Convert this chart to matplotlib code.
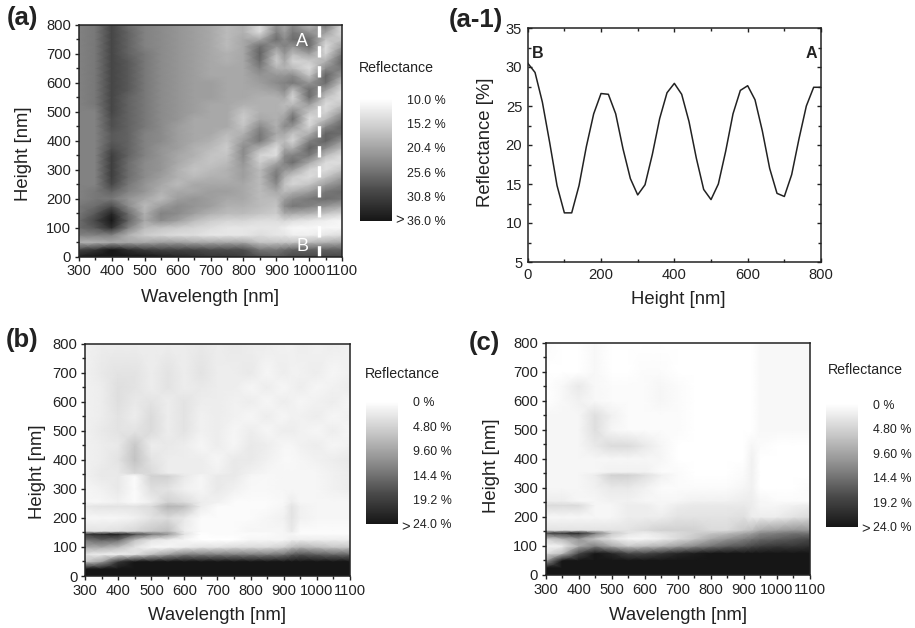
import numpy as np
import matplotlib
matplotlib.use('Agg')
import matplotlib.pyplot as plt
from matplotlib.colors import LinearSegmentedColormap, Normalize
from matplotlib.cm import ScalarMappable

plt.rcParams['font.family'] = ['Liberation Sans', 'DejaVu Sans']

W, H = 915, 628

wavelength = [300, 350, 400, 450, 500, 550, 600, 650, 700, 750, 800, 850, 900, 925, 950, 1000, 1050, 1100]

height_a = [0, 25, 50, 75, 100, 125, 150, 175, 200, 225, 250, 275, 300, 325, 350, 375, 400, 425, 450, 475, 500,
            525, 550, 575, 600, 625, 650, 675, 700, 725, 750, 775, 800]
refl_a = [
    [35, 36, 36, 36, 36, 35, 34, 33, 32, 32, 31, 29, 28, 29, 30, 30, 30, 30],
    [30, 32, 36, 33, 31, 30, 30, 30, 29, 29, 29, 25, 25, 26, 27, 27, 27, 27],
    [19, 19, 20, 20, 20, 21, 21, 20, 20, 20, 20, 17, 17, 17, 17, 18, 19, 20],
    [24, 24, 24, 19, 16, 15, 14, 14, 13, 13, 13, 14, 13, 13, 12, 12, 13, 14],
    [26, 28, 33, 24, 18, 17, 16, 15, 14, 13, 13, 13, 13, 12, 11, 11, 11, 11],
    [26, 30, 36, 27, 20, 23, 21, 18, 16, 15, 15, 14, 14, 15, 14, 13, 12, 11],
    [25, 28, 34, 26, 19, 24, 23, 21, 19, 18, 18, 17, 16, 20, 20, 19, 17, 15],
    [25, 26, 29, 23, 18, 21, 23, 22, 21, 19, 19, 18, 17, 23, 25, 24, 22, 20],
    [24, 25, 25, 22, 20, 18, 21, 22, 21, 20, 20, 18, 18, 21, 23, 25, 26, 25],
    [24, 25, 27, 24, 22, 19, 20, 20, 21, 21, 20, 18, 20, 18, 19, 21, 25, 26],
    [24, 24, 30, 25, 22, 20, 18, 20, 20, 20, 20, 18, 23, 17, 15, 17, 21, 24],
    [24, 24, 31, 26, 23, 21, 19, 18, 19, 19, 21, 18, 25, 19, 16, 14, 17, 21],
    [24, 24, 31, 26, 23, 22, 19, 17, 18, 19, 21, 18, 24, 22, 21, 15, 14, 17],
    [24, 24, 31, 26, 23, 22, 20, 18, 17, 18, 22, 16, 20, 24, 26, 20, 14, 14],
    [24, 24, 31, 27, 24, 22, 20, 19, 17, 17, 23, 15, 14, 23, 24, 25, 18, 14],
    [24, 24, 29, 27, 24, 22, 21, 19, 18, 16, 23, 19, 14, 20, 19, 27, 23, 18],
    [24, 24, 28, 27, 24, 23, 21, 20, 19, 17, 21, 25, 18, 18, 15, 24, 27, 22],
    [24, 24, 28, 27, 24, 23, 21, 20, 20, 18, 19, 25, 20, 20, 17, 19, 27, 26],
    [24, 24, 29, 27, 25, 23, 21, 20, 20, 20, 17, 23, 19, 23, 22, 15, 23, 27],
    [24, 24, 29, 27, 25, 23, 22, 20, 20, 20, 16, 20, 19, 21, 26, 14, 18, 25],
    [24, 24, 30, 27, 25, 23, 22, 21, 20, 20, 17, 19, 19, 19, 23, 17, 15, 21],
    [24, 25, 30, 27, 25, 23, 22, 21, 20, 20, 19, 19, 19, 18, 18, 21, 14, 17],
    [24, 25, 30, 27, 25, 23, 22, 21, 21, 20, 20, 19, 19, 20, 15, 26, 17, 14],
    [24, 25, 30, 28, 25, 23, 22, 21, 21, 20, 20, 20, 21, 23, 18, 26, 21, 14],
    [24, 25, 30, 28, 25, 23, 22, 21, 21, 20, 20, 21, 23, 24, 25, 22, 26, 17],
    [24, 25, 30, 28, 25, 23, 22, 21, 20, 20, 20, 22, 22, 22, 23, 17, 27, 21],
    [24, 25, 30, 28, 25, 23, 22, 21, 20, 20, 20, 24, 19, 19, 18, 14, 23, 25],
    [24, 25, 30, 28, 25, 23, 22, 21, 20, 19, 20, 26, 16, 20, 15, 16, 19, 27],
    [24, 25, 30, 27, 25, 23, 22, 21, 20, 19, 20, 27, 18, 22, 18, 21, 15, 25],
    [24, 25, 30, 27, 24, 23, 22, 21, 20, 18, 20, 26, 22, 24, 22, 26, 14, 21],
    [24, 25, 30, 27, 24, 23, 22, 21, 20, 18, 20, 20, 26, 23, 26, 26, 17, 17],
    [24, 25, 30, 27, 24, 23, 22, 21, 20, 18, 19, 14, 24, 21, 25, 22, 21, 14],
    [24, 25, 30, 26, 24, 23, 22, 21, 20, 18, 19, 14, 22, 20, 23, 18, 25, 14],
]

height_b = [0, 25, 50, 75, 100, 125, 145, 155, 200, 240, 255, 300, 345, 355, 400, 450, 500, 550, 600, 650, 700, 800]
refl_b = [
    [26, 26, 26, 26, 26, 26, 26, 26, 26, 26, 26, 26, 26, 26, 26, 26, 26, 26],
    [26, 26, 26, 26, 26, 26, 26, 26, 26, 26, 26, 26, 26, 26, 26, 26, 26, 26],
    [6, 10, 20, 24, 24, 24, 24, 24, 24, 24, 24, 24, 24, 25, 25, 25, 25, 25],
    [3, 2, 2, 3, 7, 10, 13, 13, 13, 13, 13, 13, 14, 16, 17, 16, 15, 15],
    [9, 9, 7, 3, 1, 1, 2, 3, 3, 4, 4, 4, 5, 7, 8, 7, 6, 6],
    [14, 16, 15, 7, 3, 2, 1, 0, 0, 0, 1, 1, 1, 2, 2, 2, 2, 2],
    [20, 22, 23, 18, 14, 11, 3, 0, 0.5, 0.5, 0.5, 0.5, 1, 1, 0.5, 0.5, 0.5, 0.5],
    [3, 3, 3.5, 4.5, 6, 7, 2, 0.5, 0.5, 0.5, 1, 1, 1, 2.5, 0.5, 0.5, 0.5, 0.5],
    [1, 1, 1, 1.5, 3, 4, 2.5, 0.5, 0.5, 0.5, 0.5, 1, 1.5, 3, 1.5, 1, 1, 1],
    [2.5, 3, 3, 3, 4, 8, 7, 2, 0.5, 0.5, 0.5, 0.5, 1, 3, 1.5, 1, 1, 1],
    [1, 1, 1.5, 0.5, 2, 5, 4, 2, 1.5, 0.5, 0.5, 0.5, 0.8, 2, 1, 1, 1, 1],
    [1, 1.5, 2.5, 0.5, 3.5, 3, 1.5, 1, 2.5, 1.5, 0.8, 0.8, 1, 1, 1, 1, 1.5, 2],
    [1.5, 2.5, 2.5, 0.5, 5, 5, 2.5, 1, 2.5, 2.5, 1, 0.8, 1, 1, 1, 1, 1.5, 2],
    [1.5, 2.5, 2.5, 4.5, 4, 2, 2, 2, 1.5, 2.5, 1.5, 1, 1, 1, 1, 1, 1.5, 2],
    [1.5, 2, 3, 6.5, 3, 2, 2, 2, 1, 2.5, 2.5, 1.5, 0.8, 0.8, 1, 1.5, 2, 2.5],
    [1.5, 2, 2.5, 6, 2, 2.5, 2, 1, 2, 1, 2.5, 2, 1, 1, 1.5, 2, 1, 1.5],
    [1.5, 2.5, 3, 3, 4, 2, 3, 1.5, 2, 1, 2, 1, 2, 2, 1.5, 1, 2, 1],
    [1.5, 2, 3, 2, 4, 2, 3, 1.5, 2, 1.5, 1, 2, 1, 1.5, 1.5, 2, 1, 1.5],
    [1.5, 2, 3.5, 2.5, 3, 2, 3, 2, 2, 1.5, 2, 1, 2, 1.5, 1, 1.5, 2, 1],
    [1.5, 2, 3.5, 3, 2, 3, 2, 2.5, 2, 2, 1, 2, 1, 1.5, 2, 1, 1.5, 2],
    [1.5, 2.5, 3, 3, 2, 3, 2, 3, 2, 2, 2.5, 1, 2, 1.5, 1.5, 2, 1, 1.5],
    [1.5, 2, 2, 2, 2, 2, 2, 2.5, 2, 2.5, 2, 2, 1.5, 1.5, 2, 1.5, 2, 1.5],
]

height_c = [0, 25, 50, 75, 100, 125, 145, 155, 200, 240, 255, 300, 345, 355, 400, 445, 500, 550, 600, 650, 700, 800]
refl_c = [
    [26, 26, 26, 26, 26, 26, 26, 26, 26, 26, 26, 26, 26, 26, 26, 26, 26, 26],
    [26, 26, 26, 26, 26, 26, 26, 26, 26, 26, 26, 26, 26, 26, 26, 26, 26, 26],
    [10, 24, 26, 26, 26, 25, 25, 25, 25, 25, 25, 26, 26, 26, 26, 26, 26, 26],
    [3, 7, 18, 24, 22, 18, 18, 20, 22, 23, 24, 25, 25, 25, 26, 26, 26, 26],
    [1, 2, 9, 13, 9, 6, 7, 8, 10, 12, 14, 16, 17, 18, 19, 20, 20, 21],
    [5, 8, 11, 6, 3, 1, 1, 2, 4, 6, 9, 11, 13, 14, 15, 16, 17, 18],
    [18, 20, 22, 14, 6, 3, 2, 3, 4, 5, 6, 7, 9, 10, 12, 13, 14, 14],
    [3, 3, 3, 3, 3, 3, 4, 5, 5, 5, 4, 4, 6, 7, 9, 10, 11, 11],
    [1, 1, 1, 1, 1, 2, 2, 2, 3, 3, 3, 3, 3.5, 2, 2, 2, 3, 4],
    [4, 4, 4, 1, 1, 2, 2, 1, 2, 2.5, 2.5, 2.5, 2.5, 2, 1, 1, 1.5, 2],
    [2, 2, 1, 1, 1.5, 1.5, 1, 1, 1, 1.5, 1.5, 1.5, 2, 2, 1, 0.5, 0.5, 0.5],
    [1, 1, 1, 1.5, 2.5, 2.5, 1.5, 0.5, 0.5, 0.5, 0.5, 0.5, 1, 1.5, 0, 0, 0, 0.5],
    [1, 1, 1, 2, 5, 5, 3.5, 1.5, 0.5, 0, 0, 0, 0.5, 1.5, 0, 0, 0, 0],
    [1, 1, 1, 1, 1.5, 1.5, 1.5, 0.5, 0.5, 0, 0, 0, 0.5, 1.5, 0, 0, 0, 0],
    [1, 1, 1, 1, 1, 1, 1, 1, 0, 0, 0, 0, 0, 1.5, 0, 0, 0, 0],
    [1, 1, 1, 2.5, 4, 4, 2.5, 1, 0, 0, 0, 0, 0, 1, 0.5, 0, 0, 0],
    [1, 1, 1, 3.5, 1, 0.5, 0.5, 0.5, 0.5, 0, 0, 0, 0, 0, 0.8, 0.8, 0.8, 0.8],
    [1, 1, 1, 3.5, 1.5, 0.5, 0.5, 0.5, 0.5, 0, 0, 0, 0, 0, 0.8, 0.8, 0.8, 0.8],
    [0, 0.8, 1.5, 0.8, 0.5, 0.5, 0.5, 1, 0.5, 0, 0, 0, 0, 0, 0.8, 0.8, 0.8, 0.8],
    [0, 0.8, 2.5, 0.8, 0.5, 0.5, 0.5, 1, 0.5, 0, 0, 0, 0, 0, 0.8, 0.8, 0.8, 0.8],
    [0, 0, 0, 0.8, 0, 0, 0.5, 0.5, 0, 0, 0, 0, 0, 0, 0.8, 0.8, 0.8, 0.8],
    [0.5, 0, 0, 0.8, 0, 0, 0, 0, 0, 0, 0, 0, 0, 0, 0.8, 0.8, 0.8, 0.8],
]

line_height = [0, 20, 40, 60, 80, 100, 120, 140, 160, 180, 200, 220, 240, 260, 280, 300, 320, 340, 360, 380, 400,
               420, 440, 460, 480, 500, 520, 540, 560, 580, 600, 620, 640, 660, 680, 700, 720, 740, 760, 780, 800]
line_refl = [30.5, 29.3, 25.5, 20.3, 14.8, 11.3, 11.3, 14.8, 19.8, 24.0, 26.6, 26.5, 24.0, 19.5, 15.7, 13.6, 14.9,
             18.8, 23.4, 26.7, 27.9, 26.5, 23.0, 18.3, 14.3, 13.0, 15.0, 19.2, 24.0, 27.0, 27.6, 25.8, 21.8, 17.0,
             13.8, 13.4, 16.2, 20.8, 25.0, 27.4, 27.4]

ticks_a = [10.0, 15.2, 20.4, 25.6, 30.8, 36.0]
labels_a = ['10.0 %', '15.2 %', '20.4 %', '25.6 %', '30.8 %', '36.0 %']
ticks_bc = [0, 4.8, 9.6, 14.4, 19.2, 24.0]
labels_bc = ['0 %', '4.80 %', '9.60 %', '14.4 %', '19.2 %', '24.0 %']

ink = '#222222'
cmap = LinearSegmentedColormap.from_list('refl', ['#ffffff', '#c8c8c8', '#8c8c8c', '#4a4a4a', '#161616'])


def px_axes(fig, left, top, right, bottom):
    return fig.add_axes([left / W, 1 - bottom / H, (right - left) / W, (bottom - top) / H])


def label_at(ax, xlab, ylab, xpos, ypos):
    ax.set_xlabel(xlab, fontsize=13.3, color=ink, va='center')
    ax.set_ylabel(ylab, fontsize=13.3, color=ink, va='center')
    ax.xaxis.set_label_coords(xpos[0] / W, 1 - xpos[1] / H, transform=ax.figure.transFigure)
    ax.yaxis.set_label_coords(ypos[0] / W, 1 - ypos[1] / H, transform=ax.figure.transFigure)


def style_axes(ax, xmajor, xminor, ymajor, yminor):
    ax.set_xticks(xmajor)
    ax.set_xticks(xminor, minor=True)
    ax.set_yticks(ymajor)
    ax.set_yticks(yminor, minor=True)
    ax.tick_params(which='major', length=3, width=1, labelsize=10.6, colors=ink, pad=2.5)
    ax.tick_params(which='minor', length=2, width=1, colors=ink)
    for s in ax.spines.values():
        s.set_linewidth(1.1)
        s.set_color(ink)


def draw_map(fig, box, heights, values, vmin, vmax):
    ax = px_axes(fig, *box)
    ax.pcolormesh(wavelength, heights, np.array(values, dtype=float), cmap=cmap, vmin=vmin, vmax=vmax,
                  shading='gouraud', rasterized=True)
    ax.set_xlim(300, 1100)
    ax.set_ylim(0, 800)
    style_axes(ax, np.arange(300, 1101, 100), np.arange(350, 1100, 100), np.arange(0, 801, 100), np.arange(50, 800, 100))
    return ax


def draw_bar(fig, box, vmin, vmax, ticks, labels, title_xy, arrow_xy):
    cax = px_axes(fig, *box)
    cb = fig.colorbar(ScalarMappable(Normalize(vmin, vmax), cmap), cax=cax)
    cax.invert_yaxis()
    cb.outline.set_visible(False)
    cb.set_ticks(ticks)
    cb.set_ticklabels(labels)
    cax.tick_params(length=0, pad=10.5, labelsize=8.9, colors=ink)
    fig.text(title_xy[0] / W, 1 - title_xy[1] / H, 'Reflectance', fontsize=10.2, color=ink, ha='left', va='center')
    fig.text(arrow_xy[0] / W, 1 - arrow_xy[1] / H, '>', fontsize=10.5, color=ink, ha='center', va='center')


fig = plt.figure(figsize=(W / 100, H / 100), dpi=100)

# (a)
ax_a = draw_map(fig, (78.7, 24.7, 342.3, 256.7), height_a, refl_a, 10, 36)
label_at(ax_a, 'Wavelength [nm]', 'Height [nm]', (210, 298), (24, 154))
ax_a.plot([1030, 1030], [0, 800], color='white', lw=2.4, dashes=(3.4, 2.6))
ax_a.text(978, 741, 'A', color='white', fontsize=13, ha='center', va='center')
ax_a.text(978, 34, 'B', color='white', fontsize=13, ha='center', va='center')
draw_bar(fig, (360, 99, 392, 220.7), 10, 36, ticks_a, labels_a, (359, 68), (399.5, 220.5))

# (a-1)
ax_l = px_axes(fig, 527.7, 28, 821, 262)
ax_l.plot(line_height, line_refl, color=ink, lw=1.1)
ax_l.set_xlim(0, 800)
ax_l.set_ylim(5, 35)
style_axes(ax_l, np.arange(0, 801, 200), np.arange(100, 800, 200), np.arange(5, 36, 5), np.arange(7.5, 35, 5))
ax_l.tick_params(which='both', direction='in', top=True, right=True)
ax_l.tick_params(which='major', pad=4)
label_at(ax_l, 'Height [nm]', 'Reflectance [%]', (678, 300), (485, 142))
ax_l.text(28, 31.7, 'B', fontsize=11.5, fontweight='bold', color=ink, ha='center', va='center')
ax_l.text(775, 31.7, 'A', fontsize=11.5, fontweight='bold', color=ink, ha='center', va='center')

# (b)
ax_b = draw_map(fig, (85.3, 343.7, 349.7, 576), height_b, refl_b, 0, 24)
label_at(ax_b, 'Wavelength [nm]', 'Height [nm]', (217, 616), (37, 472))
draw_bar(fig, (366, 401.7, 398, 524), 0, 24, ticks_bc, labels_bc, (365, 374), (406, 527))

# (c)
ax_c = draw_map(fig, (545.7, 342.7, 809.7, 575), height_c, refl_c, 0, 24)
label_at(ax_c, 'Wavelength [nm]', 'Height [nm]', (678, 615), (492, 466))
draw_bar(fig, (826, 404, 858, 526.7), 0, 24, ticks_bc, labels_bc, (827.5, 370), (866, 529))

for txt, x, y in [('(a)', 22, 18), ('(a-1)', 476, 20), ('(b)', 22, 340), ('(c)', 484, 343)]:
    fig.text(x / W, 1 - y / H, txt, fontsize=18.5, fontweight='bold', color=ink, ha='center', va='center')

fig.savefig('out.png', dpi=100)
